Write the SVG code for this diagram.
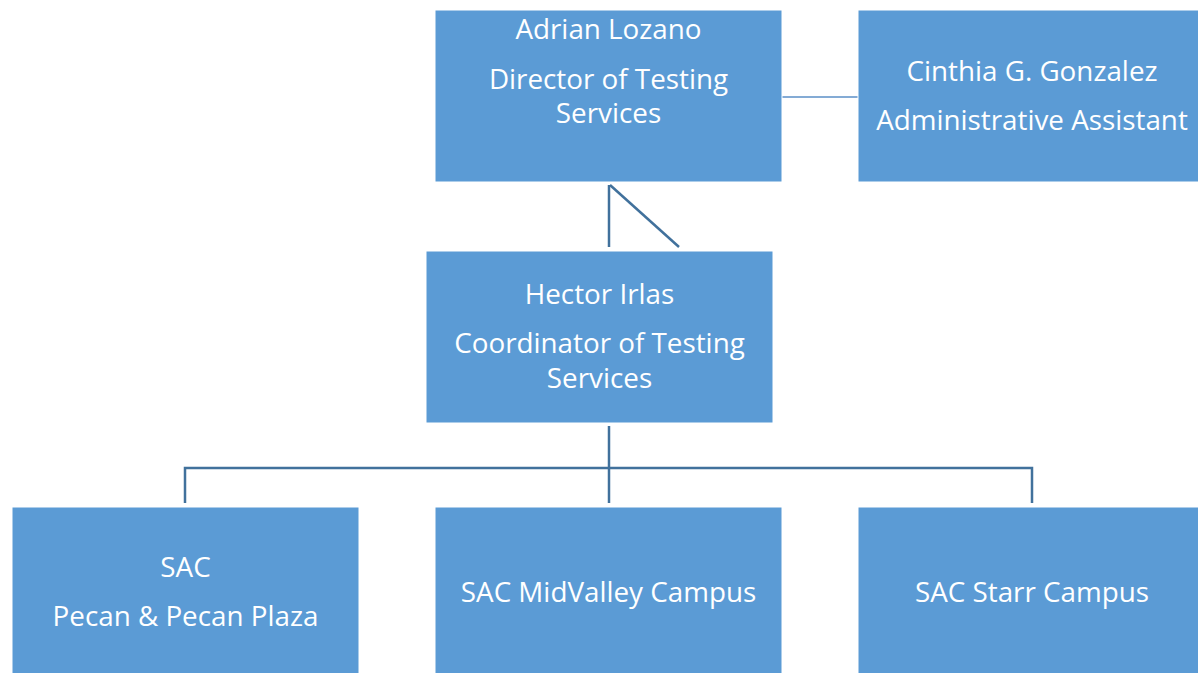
<svg xmlns="http://www.w3.org/2000/svg" width="1198" height="673" viewBox="0 0 1198 673">
  <style>
    .box { fill: #5b9bd5; stroke: #ffffff; stroke-width: 1; }
    .lbl { font-family: "Open Sans", "Liberation Sans", sans-serif; font-size: 27.8px; fill: #ffffff; text-anchor: middle; }
    .link { fill: none; stroke: #41719c; stroke-width: 2.5; }
    .thin { fill: none; stroke: #5b8fc7; stroke-width: 1.5; }
  </style>
  <rect width="1198" height="673" fill="#ffffff"/>

  <g id="connectors">
    <line class="thin" x1="782" y1="97" x2="858" y2="97"/>
    <line class="link" x1="609" y1="185" x2="609" y2="247"/>
    <line class="link" x1="610" y1="185" x2="679" y2="247"/>
    <line class="link" x1="609" y1="426" x2="609" y2="503"/>
    <polyline class="link" points="185,503 185,468 1032,468 1032,503"/>
  </g>

  <g id="director">
    <rect class="box" x="435" y="10" width="347" height="172"/>
    <text class="lbl" x="608.5" y="39">Adrian Lozano</text>
    <text class="lbl" x="608.5" y="89">Director of Testing</text>
    <text class="lbl" x="608.5" y="123">Services</text>
  </g>

  <g id="assistant">
    <rect class="box" x="858" y="10" width="348" height="172"/>
    <text class="lbl" x="1032" y="81">Cinthia G. Gonzalez</text>
    <text class="lbl" x="1032" y="130">Administrative Assistant</text>
  </g>

  <g id="coordinator">
    <rect class="box" x="426" y="251" width="347" height="172"/>
    <text class="lbl" x="599.5" y="304">Hector Irlas</text>
    <text class="lbl" x="599.5" y="353">Coordinator of Testing</text>
    <text class="lbl" x="599.5" y="388">Services</text>
  </g>

  <g id="pecan">
    <rect class="box" x="12" y="507" width="347" height="172"/>
    <text class="lbl" x="185.5" y="577">SAC</text>
    <text class="lbl" x="185.5" y="626">Pecan &amp; Pecan Plaza</text>
  </g>

  <g id="midvalley">
    <rect class="box" x="435" y="507" width="347" height="172"/>
    <text class="lbl" x="608.5" y="602">SAC MidValley Campus</text>
  </g>

  <g id="starr">
    <rect class="box" x="858" y="507" width="348" height="172"/>
    <text class="lbl" x="1032" y="602">SAC Starr Campus</text>
  </g>
</svg>
